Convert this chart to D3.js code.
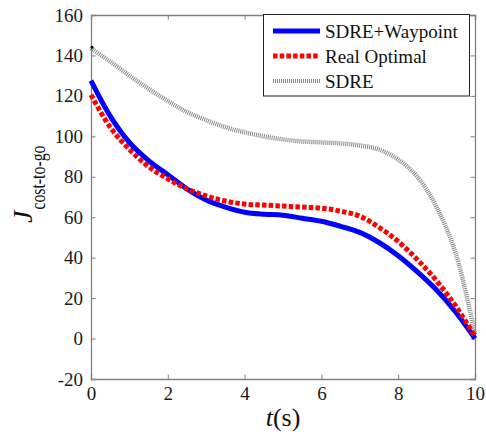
<!DOCTYPE html>
<html>
<head>
<meta charset="utf-8">
<script src="https://cdn.jsdelivr.net/npm/d3@7"></script>
<style>
svg text, svg tspan { font-family: "Liberation Serif" !important; }
</style>
</head>
<body style="margin:0">
<script>
// données
const time = [0, 0.5, 1, 1.5, 2, 2.5, 3, 3.5, 4, 4.5, 5, 5.5, 6, 6.5, 7, 7.5, 8, 8.5, 9, 9.5, 10]
const sdreWaypoint = [127.5, 110, 97, 88, 81, 74, 68.5, 65, 62.5, 61.5, 61, 59.5, 58, 55.5, 52.5, 47.5, 41, 33, 24, 13, 0]
const realOptimal = [120.5, 104.5, 93.5, 85, 79, 74, 70.5, 68, 66.5, 66, 65.5, 65, 64.5, 63, 60.5, 55, 48, 39, 28.5, 16, 1]
const sdre = [143.5, 137, 130, 123.5, 117.5, 112, 108, 104.5, 102, 100, 98.5, 97.5, 97, 96.5, 95.5, 93.5, 88.5, 80, 65, 42, 2]
const xTicks = [0, 2, 4, 6, 8, 10]
const yTicks = [-20, 0, 20, 40, 60, 80, 100, 120, 140, 160]
const seriesNames = ["SDRE+Waypoint", "Real Optimal", "SDRE"]

const W = 486, H = 439
const mLeft = 91, mRight = 475, mTop = 15, mBottom = 379
const serif = "Liberation Serif"

const svg = d3.select("body").append("svg").attr("width", W).attr("height", H)
  .attr("font-family", serif)

const x = d3.scaleLinear().domain([0, 10]).range([mLeft, mRight])
const y = d3.scaleLinear().domain([-20, 160]).range([mBottom, mTop])

const axisColor = "#808080"
const tickLen = 4.5

// axes (box)
const axX = svg.append("g").attr("transform", `translate(0,${mBottom})`)
  .call(d3.axisBottom(x).tickValues(xTicks).tickSize(-tickLen).tickPadding(8))
svg.append("g").attr("transform", `translate(0,${mTop})`)
  .call(d3.axisTop(x).tickValues(xTicks).tickSize(-tickLen).tickFormat(""))
svg.append("g").attr("transform", `translate(${mLeft},0)`)
  .call(d3.axisLeft(y).tickValues(yTicks).tickSize(-tickLen).tickPadding(8).tickFormat(d => d < 0 ? "-" + Math.abs(d) : d))
svg.append("g").attr("transform", `translate(${mRight},0)`)
  .call(d3.axisRight(y).tickValues(yTicks).tickSize(-tickLen).tickFormat(""))

svg.selectAll("g").attr("font-family", serif)
svg.selectAll(".domain").attr("stroke", axisColor).attr("stroke-width", 1.3)
svg.selectAll(".tick line").attr("stroke", axisColor)
svg.selectAll(".tick text").attr("font-family", serif).attr("font-size", 19).attr("fill", "#1a1a1a")
axX.selectAll(".tick text").attr("dy", "0.71em")

// courbes
const line = (vals) => d3.line()
  .x((d, i) => x(time[i]))
  .y(d => y(d))
  .curve(d3.curveCatmullRom.alpha(0.5))(vals)

svg.append("path").attr("d", line(sdre)).attr("fill", "none")
  .attr("stroke", "#888").attr("stroke-width", 4.5).attr("stroke-dasharray", "1,1")
svg.append("circle").attr("cx", x(time[0]) + 1).attr("cy", y(sdre[0]) - 1).attr("r", 1.5).attr("fill", "#000")

svg.append("path").attr("d", line(sdreWaypoint)).attr("fill", "none")
  .attr("stroke", "#0000ff").attr("stroke-width", 5)

svg.append("path").attr("d", line(realOptimal)).attr("fill", "none")
  .attr("stroke", "#ff0000").attr("stroke-width", 5).attr("stroke-dasharray", "4.5,2.2")

// légende
const lg = svg.append("g").attr("font-family", serif)
lg.append("rect").attr("x", 263.5).attr("y", 14.5).attr("width", 206).attr("height", 81.5)
  .attr("fill", "#fff").attr("stroke", "#222").attr("stroke-width", 1)
const styles = [
  { stroke: "#0000ff", dash: null },
  { stroke: "#ff0000", dash: "4.5,2.2" },
  { stroke: "#888", dash: "1,1" }
]
seriesNames.forEach((name, i) => {
  const yy = 31 + i * 25
  lg.append("line").attr("x1", 273).attr("x2", 320).attr("y1", yy).attr("y2", yy)
    .attr("stroke", styles[i].stroke).attr("stroke-width", i == 2 ? 4 : 5)
    .attr("stroke-dasharray", styles[i].dash)
  lg.append("text").attr("font-family", serif).attr("x", 325).attr("y", yy + 6.5).attr("font-size", 19)
    .attr("fill", "#111").text(name)
})

// titres des axes
svg.append("text").attr("font-family", serif).attr("x", 283).attr("y", 426).attr("text-anchor", "middle")
  .attr("font-size", 26).attr("fill", "#111")
  .call(t => {
    t.append("tspan").attr("font-style", "italic").text("t")
    t.append("tspan").text("(s)")
  })

const yl = svg.append("text").attr("font-family", serif).attr("transform", "translate(32,223) rotate(-90)")
  .attr("fill", "#111")
yl.append("tspan").attr("font-size", 28).attr("font-style", "italic").text("J")
yl.append("tspan").attr("font-size", 20).attr("dy", 13).attr("dx", 1)
  .attr("textLength", 64).attr("lengthAdjust", "spacingAndGlyphs").text("cost-to-go")
</script>
</body>
</html>
